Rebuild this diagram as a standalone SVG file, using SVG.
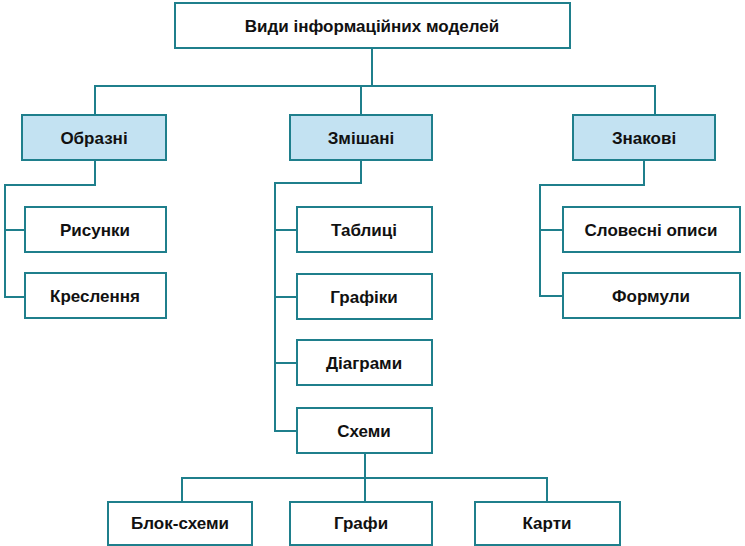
<svg xmlns="http://www.w3.org/2000/svg" width="745" height="546" viewBox="0 0 745 546">
<style>
.b{fill:#fff;stroke:#1f7f8c;stroke-width:2}
.h{fill:#c3e2f2;stroke:#1f7f8c;stroke-width:2}
.c{fill:none;stroke:#1f7f8c;stroke-width:2}
text{font-family:"Liberation Sans",Arial,sans-serif;font-weight:bold;font-size:17px;fill:#111;text-anchor:middle;dominant-baseline:central}
</style>
<rect width="745" height="546" fill="#fff"/>
<g id="connectors">
<path class="c" d="M372 48V86M95 115V86H655V115M361 86V115"/>
<path class="c" d="M95 160V185H5V297H25M5 230H25"/>
<path class="c" d="M361 160V183H275V431H297M275 230H297M275 297H297M275 363H297"/>
<path class="c" d="M644 160V185H540V296H563M540 230H563"/>
<path class="c" d="M365 453V478H182V502M365 478V502M182 478H547V502"/>
</g>
<g id="n0"><rect class="b" x="175" y="3" width="395" height="45"/><text x="372" y="26">Види інформаційних моделей</text></g>
<g id="n1"><rect class="h" x="22" y="115" width="144" height="45"/><text x="94" y="138">Образні</text></g>
<g id="n2"><rect class="h" x="290" y="115" width="142" height="45"/><text x="361" y="138">Змішані</text></g>
<g id="n3"><rect class="h" x="573" y="115" width="142" height="45"/><text x="644" y="138">Знакові</text></g>
<g id="n4"><rect class="b" x="25" y="207" width="141" height="45"/><text x="95" y="230">Рисунки</text></g>
<g id="n5"><rect class="b" x="25" y="273" width="141" height="45"/><text x="95" y="296">Креслення</text></g>
<g id="n6"><rect class="b" x="297" y="207" width="135" height="45"/><text x="364" y="230">Таблиці</text></g>
<g id="n7"><rect class="b" x="297" y="274" width="135" height="45"/><text x="364" y="297">Графіки</text></g>
<g id="n8"><rect class="b" x="297" y="340" width="135" height="45"/><text x="364" y="363">Діаграми</text></g>
<g id="n9"><rect class="b" x="297" y="408" width="135" height="45"/><text x="364" y="431">Схеми</text></g>
<g id="n10"><rect class="b" x="563" y="207" width="177" height="45"/><text x="651" y="230">Словесні описи</text></g>
<g id="n11"><rect class="b" x="563" y="273" width="177" height="45"/><text x="651" y="296">Формули</text></g>
<g id="n12"><rect class="b" x="108" y="502" width="144" height="43"/><text x="180" y="523">Блок-схеми</text></g>
<g id="n13"><rect class="b" x="290" y="502" width="142" height="43"/><text x="361" y="523">Графи</text></g>
<g id="n14"><rect class="b" x="475" y="502" width="145" height="43"/><text x="547" y="523">Карти</text></g>
</svg>
